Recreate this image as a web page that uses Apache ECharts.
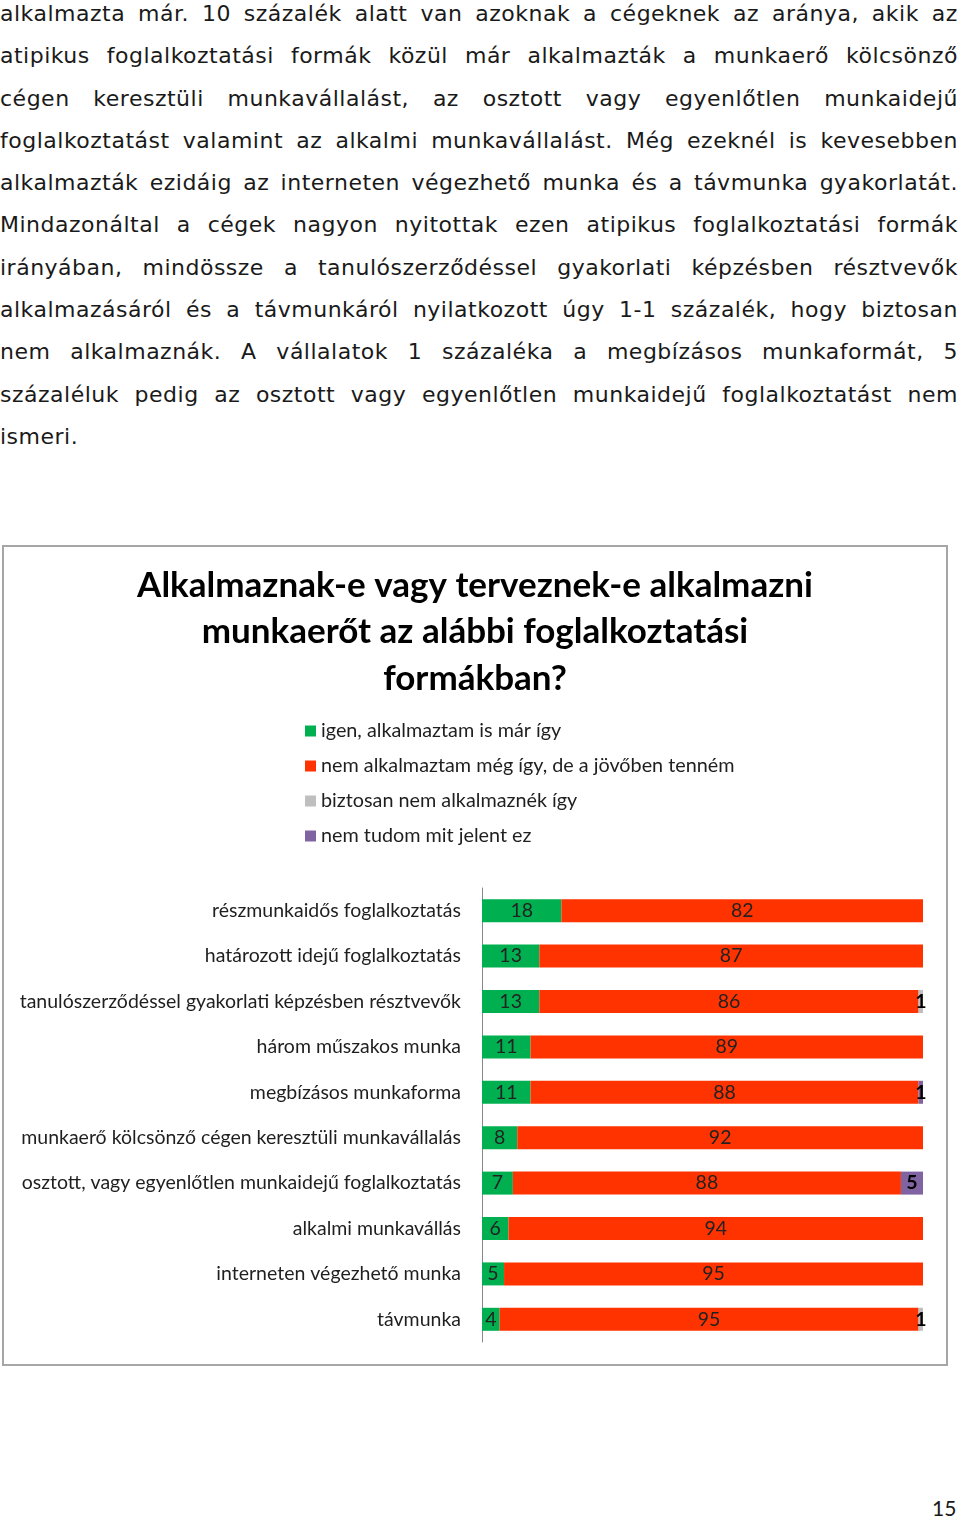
<!DOCTYPE html>
<html>
<head>
<meta charset="utf-8">
<script src="https://cdn.jsdelivr.net/npm/echarts@6/dist/echarts.min.js"></script>
<style>
  html, body { margin: 0; padding: 0; background: #fff; }
  body { width: 960px; height: 1519px; position: relative; overflow: hidden; }
  #text { position: absolute; left: 0; top: -7px; width: 958px; font-family: "DejaVu Sans", Verdana, sans-serif; font-size: 22px; letter-spacing: 0.5px; line-height: 42.3px; color: #1a1a1a; }
  .ln { display: flex; justify-content: space-between; white-space: nowrap; height: 42.3px; }
  .ln.last { justify-content: flex-start; }
  #chart { position: absolute; left: 0; top: 530px; width: 950px; height: 860px; }
  #page { position: absolute; left: 932px; top: 1495px; font-family: Lato, "Open Sans", sans-serif; font-size: 21px; color: #1a1a1a; }
</style>
</head>
<body>
<div id="text"></div>
<div id="chart"></div>
<div id="page">15</div>
<script>
const paragraphLines = [
  "alkalmazta már. 10 százalék alatt van azoknak a cégeknek az aránya, akik az",
  "atipikus foglalkoztatási formák közül már alkalmazták a munkaerő kölcsönző",
  "cégen keresztüli munkavállalást, az osztott vagy egyenlőtlen munkaidejű",
  "foglalkoztatást valamint az alkalmi munkavállalást. Még ezeknél is kevesebben",
  "alkalmazták ezidáig az interneten végezhető munka és a távmunka gyakorlatát.",
  "Mindazonáltal a cégek nagyon nyitottak ezen atipikus foglalkoztatási formák",
  "irányában, mindössze a tanulószerződéssel gyakorlati képzésben résztvevők",
  "alkalmazásáról és a távmunkáról nyilatkozott úgy 1-1 százalék, hogy biztosan",
  "nem alkalmaznák. A vállalatok 1 százaléka a megbízásos munkaformát, 5",
  "százaléluk pedig az osztott vagy egyenlőtlen munkaidejű foglalkoztatást nem",
  "ismeri."
];

const chartTitle = "Alkalmaznak-e vagy terveznek-e alkalmazni\nmunkaerőt az alábbi foglalkoztatási\nformákban?";

const categories = [
  "részmunkaidős foglalkoztatás",
  "határozott idejű foglalkoztatás",
  "tanulószerződéssel gyakorlati képzésben résztvevők",
  "három műszakos munka",
  "megbízásos munkaforma",
  "munkaerő kölcsönző cégen keresztüli munkavállalás",
  "osztott, vagy egyenlőtlen munkaidejű foglalkoztatás",
  "alkalmi munkavállás",
  "interneten végezhető munka",
  "távmunka"
];

const seriesNames = [
  "igen, alkalmaztam is már így",
  "nem alkalmaztam még így, de a jövőben tenném",
  "biztosan nem alkalmaznék így",
  "nem tudom mit jelent ez"
];

const igen      = [18, 13, 13, 11, 11, 8, 7, 6, 5, 4];
const jovoben   = [82, 87, 86, 89, 88, 92, 88, 94, 95, 95];
const biztosNem = [0, 0, 1, 0, 0, 0, 0, 0, 0, 1];
const nemTudom  = [0, 0, 0, 0, 1, 0, 5, 0, 0, 0];

// paragraph text (justified lines)
const textEl = document.getElementById('text');
paragraphLines.forEach((line, i) => {
  const d = document.createElement('div');
  d.className = 'ln' + (i === paragraphLines.length - 1 ? ' last' : '');
  line.split(' ').forEach((w, j, arr) => {
    const s = document.createElement('span');
    s.textContent = w;
    if (i === paragraphLines.length - 1 && j < arr.length - 1) s.style.marginRight = '0.35em';
    d.appendChild(s);
  });
  textEl.appendChild(d);
});

const colors = ['#00B050', '#FF3300', '#BFBFBF', '#8064A2'];
const dataSets = [igen, jovoben, biztosNem, nemTudom];
const FONT = 'Lato, "Open Sans", sans-serif';

const chart = echarts.init(document.getElementById('chart'), null, { renderer: 'canvas' });
chart.setOption({
  animation: false,
  color: colors,
  graphic: [{
    type: 'rect',
    shape: { x: 3, y: 16, width: 944, height: 819 },
    style: { fill: 'transparent', stroke: '#a6a6a6', lineWidth: 2 },
    silent: true
  }],
  title: {
    text: chartTitle,
    left: 'center',
    top: 27,
    textStyle: { fontFamily: FONT, fontSize: 35, fontWeight: 'bold', color: '#000', lineHeight: 46.5 }
  },
  legend: {
    orient: 'vertical',
    left: 305,
    top: 190,
    padding: 0,
    itemWidth: 11,
    itemHeight: 11,
    itemGap: 13,
    icon: 'rect',
    data: seriesNames,
    textStyle: { fontFamily: FONT, fontSize: 19.8, color: '#1f1f1f', lineHeight: 22 }
  },
  grid: { left: 482, right: 27, top: 358, height: 454, containLabel: false },
  xAxis: {
    type: 'value', min: 0, max: 100, show: false,
    splitLine: { show: false }
  },
  yAxis: {
    type: 'category',
    data: categories,
    inverse: true,
    axisLine: { show: true, lineStyle: { color: '#888', width: 1 } },
    axisTick: { show: false },
    axisLabel: { margin: 21, fontFamily: FONT, fontSize: 19.5, color: '#1f1f1f' }
  },
  series: seriesNames.map((name, k) => ({
    name,
    type: 'bar',
    stack: 'total',
    barWidth: 23,
    data: dataSets[k],
    itemStyle: { color: colors[k] },
    label: {
      show: true,
      position: 'inside',
      fontFamily: FONT,
      fontSize: 19.5,
      fontWeight: k >= 2 ? 'bold' : 'normal',
      color: k >= 2 ? '#000' : '#222',
      formatter: p => (p.value > 0 ? String(p.value) : '')
    }
  }))
});
</script>
</body>
</html>
